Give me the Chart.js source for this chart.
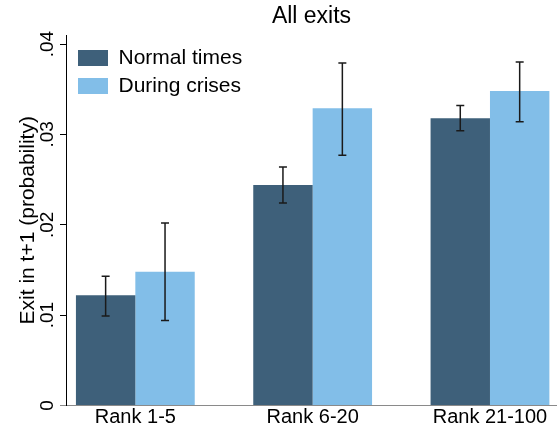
<!DOCTYPE html>
<html>
<head>
<meta charset="utf-8">
<script src="https://cdn.jsdelivr.net/npm/chart.js@4"></script>
<style>
  html, body { margin: 0; padding: 0; background: #fff; }
  #wrap { width: 557px; height: 426px; }
</style>
</head>
<body>
<div id="wrap"><canvas id="exitChart" width="557" height="426"></canvas></div>
<script>
/* ── Data ── */
const categories = ['Rank 1-5', 'Rank 6-20', 'Rank 21-100'];
const normalTimes = [0.0122, 0.0244, 0.0318];
const duringCrises = [0.0148, 0.0329, 0.0348];
const normalLow  = [0.0099, 0.0224, 0.0304];
const normalHigh = [0.0143, 0.0264, 0.0332];
const crisisLow  = [0.0094, 0.0277, 0.0314];
const crisisHigh = [0.0202, 0.0379, 0.0380];
const yTicks = [0, 0.01, 0.02, 0.03, 0.04];
const yTickLabels = ['0', '.01', '.02', '.03', '.04'];

const DARK = '#3e607a';
const LIGHT = '#82bee8';
const FONT = "'Liberation Sans', Arial, sans-serif";

Chart.defaults.font.family = FONT;
Chart.defaults.color = '#000';

const errorRanges = [
  { low: normalLow, high: normalHigh },
  { low: crisisLow, high: crisisHigh }
];

/* ── Error bars on top of each bar ── */
const errorBars = {
  id: 'errorBars',
  afterDatasetsDraw(chart) {
    const { ctx, scales: { y } } = chart;
    ctx.save();
    ctx.strokeStyle = '#1a1a1a';
    ctx.lineWidth = 1.5;
    errorRanges.forEach((r, i) => {
      chart.getDatasetMeta(i).data.forEach((bar, j) => {
        const top = y.getPixelForValue(r.high[j]);
        const bot = y.getPixelForValue(r.low[j]);
        ctx.beginPath();
        ctx.moveTo(bar.x, top); ctx.lineTo(bar.x, bot);
        ctx.moveTo(bar.x - 4, top); ctx.lineTo(bar.x + 4, top);
        ctx.moveTo(bar.x - 4, bot); ctx.lineTo(bar.x + 4, bot);
        ctx.stroke();
      });
    });
    ctx.restore();
  }
};

/* ── Centre title over plot, push legend a little inside ── */
const placeBoxes = {
  id: 'placeBoxes',
  afterLayout(chart) {
    const area = chart.chartArea;
    if (chart.titleBlock) {
      chart.titleBlock.left = area.left;
      chart.titleBlock.right = area.right;
    }
    if (chart.legend) {
      chart.legend.left = area.left + 5;
      chart.legend.top = area.top + 5.5;
    }
  }
};

new Chart(document.getElementById('exitChart'), {
  type: 'bar',
  data: {
    datasets: [
      {
        label: 'Normal times',
        data: normalTimes.map((v, i) => ({ x: i + 1, y: v })),
        backgroundColor: DARK,
        borderWidth: 0
      },
      {
        label: 'During crises',
        data: duringCrises.map((v, i) => ({ x: i + 1, y: v })),
        backgroundColor: LIGHT,
        borderWidth: 0
      }
    ]
  },
  options: {
    responsive: false,
    animation: false,
    devicePixelRatio: 1,
    categoryPercentage: 0.67,
    barPercentage: 1,
    layout: { padding: 0 },
    plugins: {
      title: {
        display: true,
        text: 'All exits',
        color: '#000',
        font: { size: 23, weight: 'normal' },
        padding: { top: 3, bottom: 4.4 }
      },
      legend: {
        position: 'chartArea',
        align: 'start',
        labels: {
          boxWidth: 30,
          boxHeight: 16,
          padding: 7,
          color: '#000',
          font: { size: 21 }
        }
      },
      tooltip: { enabled: false }
    },
    scales: {
      x: {
        type: 'linear',
        offset: false,
        min: 0.609,
        max: 3.378,
        afterBuildTicks: s => { s.ticks = categories.map((c, i) => ({ value: i + 1 })); },
        afterFit: s => { s.height = 20.5; },
        grid: { display: false, drawTicks: false, offset: false },
        border: { display: true, color: '#8a8a8a', width: 1 },
        ticks: {
          padding: 0,
          maxRotation: 0,
          autoSkip: false,
          font: { size: 20 },
          callback: v => categories[v - 1]
        }
      },
      y: {
        min: 0,
        max: 0.041,
        afterBuildTicks: s => { s.ticks = yTicks.map(v => ({ value: v })); },
        afterFit: s => { s.width = 66; },
        grid: {
          drawOnChartArea: false,
          tickLength: 6,
          color: c => (c.tick && c.tick.value === 0 ? '#8a8a8a' : '#000'),
          lineWidth: 1
        },
        border: { display: true, color: '#000', width: 1 },
        ticks: {
          minRotation: 90,
          maxRotation: 90,
          crossAlign: 'center',
          padding: -1,
          font: { size: 19 },
          callback: v => yTickLabels[yTicks.indexOf(v)]
        },
        title: {
          display: true,
          text: 'Exit in t+1 (probability)',
          font: { size: 21 },
          padding: { top: 16, bottom: 0 }
        }
      }
    }
  },
  plugins: [errorBars, placeBoxes]
});
</script>
</body>
</html>
